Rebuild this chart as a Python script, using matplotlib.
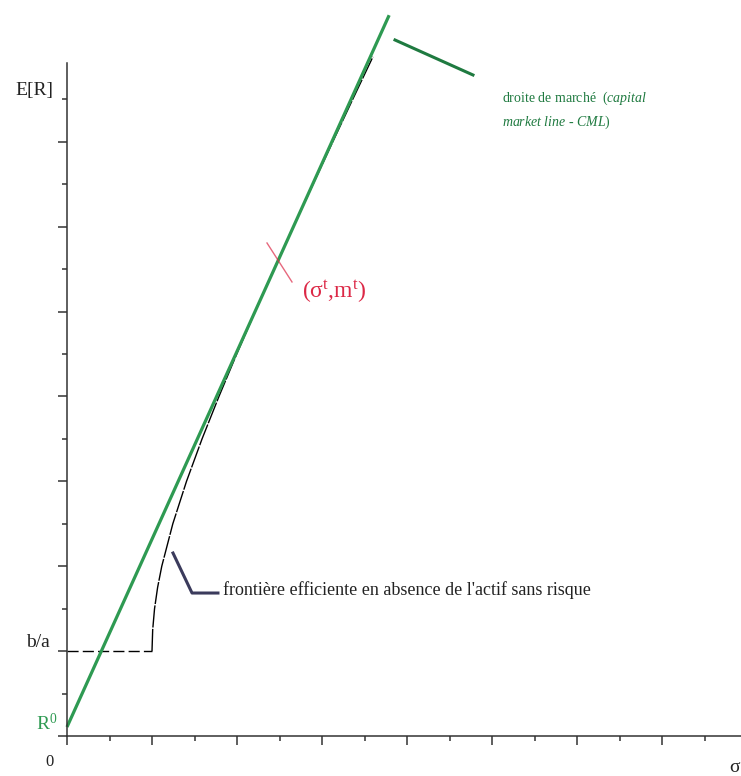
import matplotlib
matplotlib.use("Agg")
import matplotlib.pyplot as plt
import numpy as np

# market line (CML): risk-free rate R0 and the top end of the drawn line
cml_sigma = [0.0, 3.79]
cml_return = [0.106, 8.49]

# efficient frontier without the risk-free asset
front_sigma = [1.000, 1.008, 1.030, 1.066, 1.115, 1.245, 1.406, 1.589, 1.788,
               1.997, 2.214, 2.437, 2.664, 2.895, 3.127, 3.362, 3.599]
front_return = [1.0, 1.25, 1.5, 1.75, 2.0, 2.5, 3.0, 3.5, 4.0,
                4.5, 5.0, 5.5, 6.0, 6.5, 7.0, 7.5, 8.0]

# b/a level (minimum variance return) and its sigma
ba_level = 1.0
ba_sigma = 1.0

# tangency portfolio marker
tangent_sigma = [2.353, 2.647]
tangent_return = [5.807, 5.348]

plt.rcParams['font.family'] = ['Liberation Serif', 'DejaVu Serif']
plt.rcParams['mathtext.fontset'] = 'custom'
plt.rcParams['mathtext.rm'] = 'Liberation Serif'
plt.rcParams['mathtext.it'] = 'Liberation Serif:italic'

green = '#2e9a52'
dkgreen = '#1f7a40'
red = '#dc2846'

fig = plt.figure(figsize=(7.41, 7.76), dpi=100)
ax = fig.add_axes([67/741, 40/776, 674/741, 673/776])
ax.set_xlim(0, 674/85)
ax.set_ylim(0, 673/84.9)

for s in ['top', 'right']:
    ax.spines[s].set_visible(False)
for s in ['left', 'bottom']:
    ax.spines[s].set_color('#333333')
    ax.spines[s].set_linewidth(1.1)

ax.set_xticks(np.arange(0, 8, 1))
ax.set_xticks(np.arange(0.5, 8, 1), minor=True)
ax.set_yticks(np.arange(0, 8, 1))
ax.set_yticks(np.arange(0.5, 8, 1), minor=True)
ax.tick_params(which='major', length=6.5, width=1.1, color='#333333', labelleft=False, labelbottom=False)
ax.tick_params(which='minor', length=3.8, width=1.1, color='#333333')

# dashed b/a line and frontier
ax.plot([0, ba_sigma], [ba_level, ba_level], color='black', lw=1.0, dashes=(8, 3))
ax.plot(front_sigma, front_return, color='black', lw=1.0, dashes=(16, 1), clip_on=False)

# capital market line
ax.plot(cml_sigma, cml_return, color=green, lw=2.3, clip_on=False, solid_capstyle='butt')

# tangency marker
ax.plot(tangent_sigma, tangent_return, color=red, lw=1.0, alpha=0.7)
ax.text(2.77, 5.23, '(σ$^{\\mathrm{t}}$,m$^{\\mathrm{t}}$)', color=red, fontsize=17,
        ha='left', va='center')

# annotation: CML
ax.plot([3.859, 4.776], [8.198, 7.786], color=dkgreen, lw=2.2, clip_on=False)
ax.text(5.12, 7.47, 'droite de marché  ($\\mathit{capital}$', color=dkgreen, fontsize=10,
        ha='left', va='baseline')
ax.text(5.12, 7.19, '$\\mathit{market\\ line}$ - $\\mathit{CML}$)', color=dkgreen, fontsize=10,
        ha='left', va='baseline')

# annotation: frontier
ax.plot([1.247, 1.471, 1.776], [2.155, 1.684, 1.684], color='#3b3b5c', lw=2.2)
ax.text(1.835, 1.66, "frontière efficiente en absence de l'actif sans risque", color='#222222',
        fontsize=13, ha='left', va='baseline')

# axis labels
ax.text(-0.165, 7.60, 'E[R]', fontsize=14, ha='right', va='center', color='#222222')
ax.text(-0.2, 1.10, 'b/a', fontsize=14, ha='right', va='center', color='#222222')
ax.text(-0.118, 0.15, 'R$^{0}$', fontsize=14, ha='right', va='center', color=green)
ax.text(-0.21, -0.31, '0', fontsize=12, ha='center', va='center', color='#222222')
ax.text(7.85, -0.37, 'σ', fontsize=14, ha='center', va='center', color='#222222')

fig.savefig('out.png', dpi=100)
